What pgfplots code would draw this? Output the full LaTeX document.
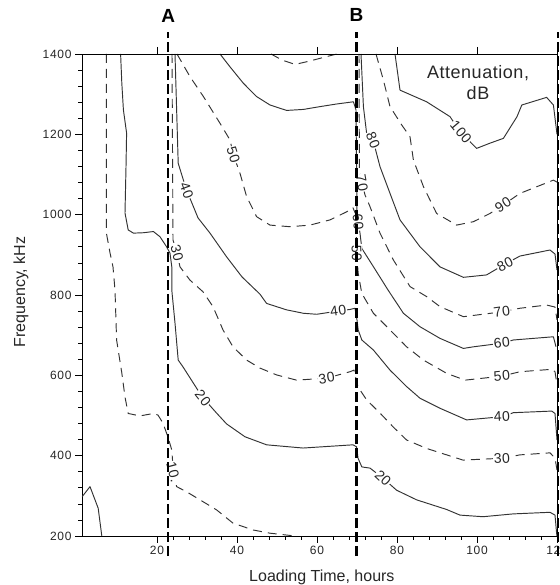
\documentclass[border=0pt]{standalone}
\usepackage{fontspec}
\setmainfont{Liberation Sans}
\setsansfont{Liberation Sans}
\newfontfamily\attfont[LetterSpace=3]{Liberation Sans}
\newfontfamily\tickfont[LetterSpace=6]{Liberation Sans}
\newfontfamily\labfont[LetterSpace=4]{Liberation Sans}
\usepackage{pgfplots}
\pgfplotsset{compat=1.18}
\definecolor{cl}{gray}{0.2}
\tikzset{
 sol/.style={cl, line width=0.95pt, line join=round},
 dsh/.style={cl, line width=0.95pt, line join=round, dash pattern=on 9pt off 6pt},
 lab/.style={font=\labfont\fontsize{14}{14}\selectfont, fill=white, inner sep=0.8pt, text=black!85},
 refl/.style={black, line width=2.4pt, dash pattern=on 10pt off 4pt},
}
\begin{document}
\begin{tikzpicture}[x=1pt,y=1pt]
\begin{axis}[
 at={(82pt,49pt)}, anchor=south west, scale only axis,
 width=475pt, height=482pt,
 xmin=1.25, xmax=120, ymin=200, ymax=1400,
 xtick={20,40,60,80,100,120}, ytick={200,400,...,1400},
 minor x tick num=4, minor y tick num=4,
 xtick pos=left, ytick pos=left,
 tick align=outside,
 major tick length=7pt, minor tick length=4pt,
 tick style={black, line width=0.6pt},
 axis line style={black, line width=0.8pt},
 ticklabel style={font=\tickfont\fontsize{12}{12}\selectfont, text=black!85},
 /pgf/number format/assume math mode=true,
 /pgf/number format/1000 sep={},
 xlabel={Loading Time, hours}, ylabel={Frequency, kHz},
 label style={font=\fontsize{16}{16}\selectfont, text=black!85},
 xlabel style={at={(axis description cs:0.505,-0.0934)}, anchor=base},
 ylabel style={at={(axis description cs:-0.1284,0.506)}, anchor=center},
 clip=false,
]
% small corner contour
\addplot[sol] coordinates {(1.3,298)(3.25,323)(5.3,269)(6.2,200)};
% 10 dB
\addplot[dsh] coordinates {(7.35,1400)(7.35,954)(8.25,905)(9.0,870)(9.5,812)(9.9,688)(11.2,606)(12,546)(12.8,505)(15.75,499)(19.1,505)(20.25,501)(21.5,481)(22.75,446)(23.7,414)(24.1,359)(24.9,323)(27.4,310)(30.75,290)(34.9,265)(39,232)(44,215)(48.25,207)(54.5,200)};
% 20 dB
\addplot[sol] coordinates {(10.9,1400)(11.2,1328)(11.6,1261)(12.4,1203)(12.25,1119)(12,1004)(12.8,962)(14.1,954)(16.6,955)(19.1,958)(20.75,945)(22.4,920)(23.25,904)(23.7,870)(23.7,812)(24.5,730)(25.3,638)(26.5,621)(29.9,568)(31.5,544)(34.9,506)(37.4,479)(42,447)(47.4,427)(56.5,419)(69,427)(69.9,422)(70.25,394)(71.2,372)(73.25,369)(76.5,344)(79.9,314)(84.9,290)(92.4,266)(95.75,252)(101.5,248)(109,255)(118.25,259)(119.5,252)(119.9,207)(120,200)};
% 30 dB
\addplot[dsh] coordinates {(23.75,1400)(24,937)(25,905)(25.75,870)(28.25,837)(31.5,808)(34,771)(36.5,713)(39,671)(42.4,638)(45.75,618)(49.9,601)(54.9,588)(62.4,593)(68.25,609)(69.25,613)(69.6,597)(70.25,571)(72.4,539)(75.75,506)(79,472)(82.4,439)(87.4,418)(92.4,402)(96.5,389)(106.2,393.5)(110.75,402)(118.25,407)(119.5,394)(120,364)};
% 40 dB
\addplot[sol] coordinates {(24.5,1400)(25.3,1128)(26.6,1086)(27.4,1061)(29.1,1020)(30.25,992)(33.25,954)(37.4,895)(41.25,845)(45.75,802)(47.4,779)(52.4,763)(56.6,754.5)(59.9,752)(65.3,760)(68.25,764)(69.5,767)(70,738)(70.3,713)(71.2,688)(74.1,663)(78.25,613)(82.4,572)(85.75,543)(90.75,518)(97.4,489)(106.2,497)(109.1,507)(118.7,511)(119.5,505)(120,439)};
% 50 dB
\addplot[dsh] coordinates {(25,1400)(28.25,1343.5)(31.6,1294)(35.75,1227.5)(38.25,1186)(39.1,1148.6)(40.75,1103)(42.4,1045)(44.9,995)(48.25,974)(53.25,970)(58.25,974)(63.25,987)(67.4,1007)(69,1017)(69.75,999)(69.9,904)(70.3,854)(71.2,804)(74.1,754.5)(78.25,713)(82.4,671)(86.6,638)(92.4,605)(97,588)(106.2,598)(110.75,609)(118.7,615)(119.5,609)(120,576)};
% 60 dB
\addplot[sol] coordinates {(35.75,1400)(38.25,1368)(41.6,1327)(44.9,1294)(48.25,1273)(52.4,1259.5)(56.6,1262)(60.75,1269)(64.9,1275.5)(69.1,1281)(69.75,1261)(70,1003)(70.3,982)(70.75,954)(71.2,916)(74.1,870.5)(77.75,812.5)(81.6,754.5)(85.75,721)(90.75,692)(96.6,667)(99.1,671)(106.2,680)(109.1,688)(119.1,696)(119.75,671)};
% 70 dB
\addplot[dsh] coordinates {(48.5,1400)(51.25,1385)(54.5,1374)(58.25,1382.6)(62,1392.5)(65,1400)};
\addplot[dsh] coordinates {(70.5,1400)(70.6,1111)(71.25,1079)(72,1049)(73.25,1020)(75.75,954)(79.1,887)(83.25,821)(87.4,796)(90.75,771)(96.6,746)(106.2,758)(110.75,767)(117.4,775)(119.5,770)(120,738)};
% 80 dB
\addplot[sol] coordinates {(71,1400)(71.6,1269)(72.4,1203)(74,1186)(75.75,1119.5)(78.25,1053)(80.75,987)(85.75,920)(90.75,870)(96.6,844)(102.4,850)(107,877)(110.75,897)(118.25,912)(119.5,902)(120,862)};
% 90 dB
\addplot[dsh] coordinates {(74.75,1400)(76.6,1335)(78.25,1269)(81.2,1223)(83.25,1194)(84.1,1136)(86.6,1070)(89.9,1003)(94.9,974)(99.1,982.5)(103.25,1003)(106.5,1024)(110.75,1053)(119.1,1086)(120,1081)};
% 100 dB
\addplot[sol] coordinates {(79.5,1400)(80.75,1310)(87.4,1281)(93.25,1244)(95.75,1207)(99.9,1165)(103.25,1178)(106.6,1190)(110,1244)(111.2,1273)(117.4,1292)(119.1,1273)(120,1200)};
% contour labels
\node[lab, rotate=-75] at (axis cs:24.1,359) {10.};
\node[lab, rotate=-52] at (axis cs:31.5,544) {20};
\node[lab, rotate=-75] at (axis cs:25,905) {30};
\node[lab, rotate=-70] at (axis cs:27.4,1061) {40};
\node[lab, rotate=-73] at (axis cs:39.1,1148.6) {50};
\node[lab, rotate=8] at (axis cs:65.3,760) {40};
\node[lab, rotate=9] at (axis cs:62.4,593) {30};
\node[lab, rotate=-80] at (axis cs:71.25,1079) {70};
\node[lab, rotate=-85] at (axis cs:70.3,982) {60};
\node[lab, rotate=-88] at (axis cs:69.9,904) {50};
\node[lab, rotate=-68] at (axis cs:74,1186) {80};
\node[lab, rotate=-50] at (axis cs:96,1206) {100};
\node[lab, rotate=33] at (axis cs:106.5,1024) {90};
\node[lab, rotate=27] at (axis cs:107,877) {80};
\node[lab, rotate=8] at (axis cs:106.2,758) {70};
\node[lab, rotate=7] at (axis cs:106.2,680) {60};
\node[lab, rotate=5] at (axis cs:106.2,598) {50};
\node[lab, rotate=3] at (axis cs:106.2,497) {40};
\node[lab, rotate=3] at (axis cs:106.2,393.5) {30};
\node[lab, rotate=-43] at (axis cs:76.5,344) {20};
% annotation text
\node[align=center, text=black!85, font=\attfont\fontsize{18}{21}\selectfont] at (axis cs:100.25,1328) {Attenuation,\\dB};
\node[font=\bfseries\fontsize{19}{19}\selectfont] at (axis cs:22.8,1494) {A};
\node[font=\bfseries\fontsize{19}{19}\selectfont] at (axis cs:69.9,1497) {B};
% reference lines
\addplot[refl] coordinates {(22.8,150)(22.8,1455)};
\addplot[refl] coordinates {(69.9,150)(69.9,1455)};
\addplot[refl] coordinates {(120.2,150)(120.2,1455)};
\end{axis}
\begin{axis}[
 at={(82pt,49pt)}, anchor=south west, scale only axis,
 width=475pt, height=482pt,
 xmin=1.25, xmax=120, ymin=200, ymax=1400,
 axis x line*=top, axis y line=none,
 xtick={20,40,60,80,100,120}, xticklabels={}, ytick=\empty,
 minor x tick num=0, tick align=outside, major tick length=7pt,
 tick style={black, line width=0.6pt},
 axis line style={black, line width=0.8pt},
]
\end{axis}
\pgfresetboundingbox
\path[use as bounding box] (0,0) rectangle (559pt,585pt);
\end{tikzpicture}
\end{document}
